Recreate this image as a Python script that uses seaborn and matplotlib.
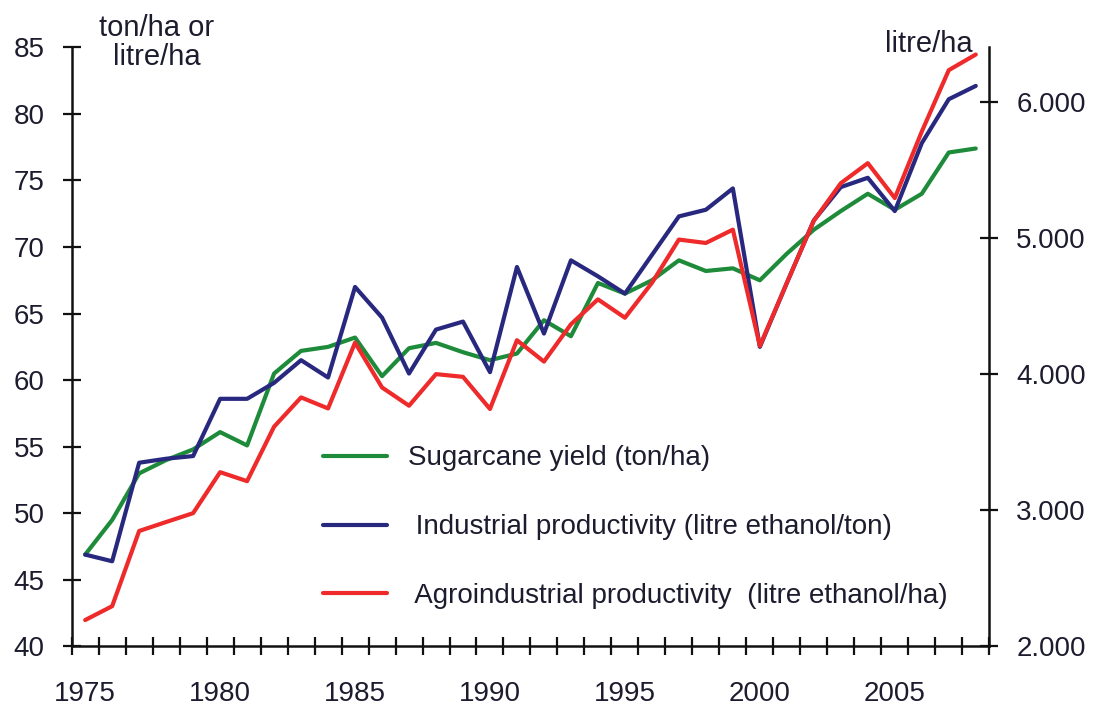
import matplotlib
matplotlib.use("Agg")
import matplotlib.pyplot as plt
from matplotlib.ticker import FixedLocator, FuncFormatter
import numpy as np
import pandas as pd
import seaborn as sns

years = list(range(1975, 2009))

# ton/ha (left axis)
sugarcane_yield = [46.9, 49.5, 53.0, 54.0, 54.8, 56.1, 55.1, 60.5, 62.2, 62.5,
                   63.2, 60.3, 62.4, 62.8, 62.1, 61.5, 62.0, 64.5, 63.3, 67.3,
                   66.5, 67.5, 69.0, 68.2, 68.4, 67.5, 69.5, 71.3, 72.7, 74.0,
                   72.8, 74.0, 77.1, 77.4]
# litre ethanol/ton (left axis)
industrial_prod = [46.9, 46.4, 53.8, 54.1, 54.3, 58.6, 58.6, 59.8, 61.5, 60.2,
                   67.0, 64.7, 60.5, 63.8, 64.4, 60.6, 68.5, 63.5, 69.0, 67.8,
                   66.5, 69.4, 72.3, 72.8, 74.4, 62.5, 67.3, 72.0, 74.5, 75.2,
                   72.7, 77.8, 81.1, 82.1]
# litre ethanol/ha (right axis)
agroindustrial_prod = [2194, 2296, 2848, 2914, 2979, 3280, 3214, 3614, 3829, 3748,
                       4231, 3902, 3768, 4000, 3980, 3744, 4249, 4092, 4366, 4549,
                       4414, 4670, 4988, 4963, 5061, 4207, 4670, 5127, 5402, 5549,
                       5293, 5781, 6232, 6347]

labels = ["Sugarcane yield (ton/ha)",
          " Industrial productivity (litre ethanol/ton)",
          " Agroindustrial productivity  (litre ethanol/ha)"]
colors = ["#1e8b3a", "#28287f", "#ee2a2a"]
text_color = "#1c1c2e"

df = pd.DataFrame({"Year": years, "yield": sugarcane_yield,
                   "industrial": industrial_prod, "agro": agroindustrial_prod})

sns.set_style("ticks")
plt.rcParams["font.family"] = ["Liberation Sans", "DejaVu Sans"]

fig = plt.figure(figsize=(10.96, 7.08), dpi=100)
ax = fig.add_axes([0.0654, 0.0869, 0.8372, 0.8463])
ax2 = ax.twinx()

lw = 3.0
sns.lineplot(data=df, x="Year", y="yield", ax=ax, color=colors[0], linewidth=lw, label=labels[0])
sns.lineplot(data=df, x="Year", y="industrial", ax=ax, color=colors[1], linewidth=lw, label=labels[1])
sns.lineplot(data=df, x="Year", y="agro", ax=ax2, color=colors[2], linewidth=lw, label=labels[2])

ax.set_xlim(1974.5, 2008.5)
ax.set_ylim(40, 85)
ax2.set_ylim(2000, 6400)
ax.set_xlabel("")
ax.set_ylabel("")
ax2.set_ylabel("")

for a in (ax, ax2):
    a.spines["top"].set_visible(False)
    for s in a.spines.values():
        s.set_linewidth(1.8)
        s.set_color("#111111")
ax.spines["right"].set_visible(False)
ax2.spines["left"].set_visible(False)
ax2.spines["bottom"].set_visible(False)

# x axis: labels every 5 years, ticks at year boundaries
ax.set_xticks([1975, 1980, 1985, 1990, 1995, 2000, 2005])
ax.set_xticklabels(["1975", "1980", "1985", "1990", "1995", "2000", "2005"])
ax.xaxis.set_minor_locator(FixedLocator(np.arange(1974.5, 2009, 1.0)))
ax.tick_params(axis="x", which="major", length=0, pad=25, labelsize=20, labelcolor=text_color)
ax.tick_params(axis="x", which="minor", direction="inout", length=13, width=1.6, color="#111111")

ax.set_yticks(np.arange(40, 86, 5))
ax.tick_params(axis="y", direction="inout", length=13, width=1.6, color="#111111",
               pad=13, labelsize=20, labelcolor=text_color)

ax2.set_yticks([2000, 3000, 4000, 5000, 6000])
ax2.yaxis.set_major_formatter(FuncFormatter(lambda v, p: f"{int(v):,}".replace(",", ".")))
ax2.tick_params(axis="y", direction="inout", length=13, width=1.6, color="#111111",
                pad=13, labelsize=20, labelcolor=text_color)

# unit labels
fig.text(157 / 1096, 1 - 14 / 708, "ton/ha or\nlitre/ha", ha="center", va="top",
         fontsize=21, color=text_color, linespacing=1.05)
fig.text(973 / 1096, 1 - 30 / 708, "litre/ha", ha="right", va="top",
         fontsize=21, color=text_color)

# legend
h1, l1 = ax.get_legend_handles_labels()
h2, l2 = ax2.get_legend_handles_labels()
if ax2.get_legend():
    ax2.get_legend().remove()
leg = ax.legend(h1 + h2, l1 + l2, loc="center left", bbox_to_anchor=(0.274, 0.199),
                frameon=False, fontsize=20, handlelength=2.3, handletextpad=0.76,
                labelspacing=1.54, borderpad=0, borderaxespad=0)
for t in leg.get_texts():
    t.set_color(text_color)

fig.savefig("out.png", dpi=100)
